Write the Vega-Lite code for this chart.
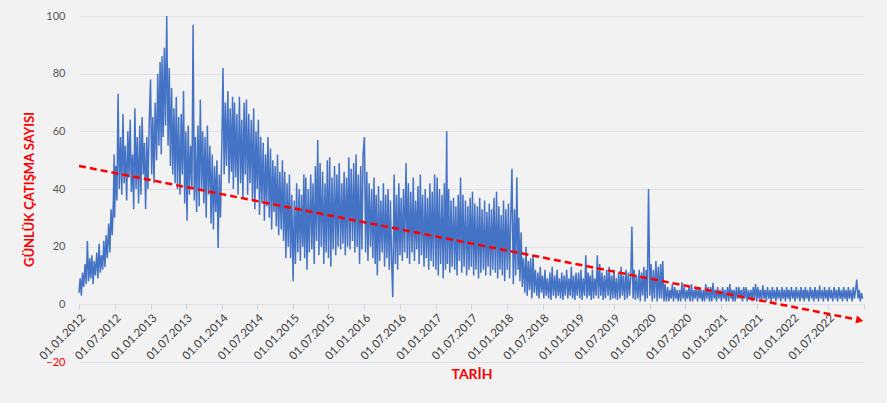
{
"$schema":"https://vega.github.io/schema/vega-lite/v6.json",
"width":785,"height":346,
"autosize":{"type":"none"},
"padding":{"left":79,"top":16,"right":23,"bottom":41},
"background":"#f2f2f2",
"config":{"view":{"stroke":null},"font":"Lato"},
"encoding":{
"x":{"field":"date","type":"temporal",
"scale":{"type":"utc","domain":[1325376000000,1672531200000]},
"axis":{"title":"TARİH","titleColor":"#ff0000","titleFontWeight":"bold","titleFontSize":14,"titlePadding":6,
"offset":-58,"domain":false,"grid":false,"tickColor":"#d0d3d8","tickSize":5,
"labelAngle":-45,"labelFontSize":11.5,"labelColor":"#404040","labelPadding":3,"labelOverlap":false,"labelBound":false,"labelFlush":false,"labelSeparation":0,
"values":[1325376000000,1341100800000,1356998400000,1372636800000,1388534400000,1404172800000,1420070400000,1435708800000,1451606400000,1467331200000,1483228800000,1498867200000,1514764800000,1530403200000,1546300800000,1561939200000,1577836800000,1593561600000,1609459200000,1625097600000,1640995200000,1656633600000,1672531200000],
"format":"%d.%m.%Y",
"labelExpr":"datum.value >= 1672531200000 ? '' : datum.label"}},
"y":{"field":"count","type":"quantitative",
"scale":{"domain":[-20,100],"nice":false,"zero":false},
"axis":{"title":"GÜNLÜK ÇATIŞMA SAYISI","titleColor":"#ff0000","titleFontWeight":"bold","titleFontSize":13,"titlePadding":9,
"values":[-20,0,20,40,60,80,100],"domain":false,"ticks":false,"labelPadding":14,"labelFontSize":11,
"labelColor":{"condition":{"test":"datum.value < 0","value":"#ff0000"},"value":"#595959"},
"gridColor":"#dde1e7","gridWidth":1.2}}
},
"layer":[
{"data":{"values":[
{"date":"2012-01-01","count":4},{"date":"2012-01-07","count":9},{"date":"2012-01-13","count":3},{"date":"2012-01-19","count":11},{"date":"2012-01-25","count":6},
{"date":"2012-02-01","count":14},{"date":"2012-02-07","count":7},{"date":"2012-02-13","count":22},{"date":"2012-02-19","count":8},{"date":"2012-02-25","count":16},
{"date":"2012-03-01","count":9},{"date":"2012-03-07","count":17},{"date":"2012-03-13","count":7},{"date":"2012-03-19","count":15},{"date":"2012-03-25","count":10},
{"date":"2012-04-01","count":18},{"date":"2012-04-07","count":9},{"date":"2012-04-13","count":21},{"date":"2012-04-19","count":11},{"date":"2012-04-25","count":17},
{"date":"2012-05-01","count":12},{"date":"2012-05-07","count":22},{"date":"2012-05-13","count":13},{"date":"2012-05-19","count":24},{"date":"2012-05-25","count":16},
{"date":"2012-06-01","count":28},{"date":"2012-06-07","count":18},{"date":"2012-06-13","count":33},{"date":"2012-06-19","count":24},{"date":"2012-06-25","count":36},{"date":"2012-06-29","count":52},
{"date":"2012-07-01","count":30},{"date":"2012-07-07","count":48},{"date":"2012-07-13","count":36},{"date":"2012-07-19","count":73},{"date":"2012-07-25","count":40},
{"date":"2012-08-01","count":58},{"date":"2012-08-07","count":38},{"date":"2012-08-13","count":66},{"date":"2012-08-19","count":42},{"date":"2012-08-25","count":55},
{"date":"2012-09-01","count":36},{"date":"2012-09-07","count":60},{"date":"2012-09-13","count":44},{"date":"2012-09-19","count":64},{"date":"2012-09-25","count":39},
{"date":"2012-10-01","count":52},{"date":"2012-10-07","count":33},{"date":"2012-10-13","count":68},{"date":"2012-10-19","count":40},{"date":"2012-10-25","count":58},
{"date":"2012-11-01","count":35},{"date":"2012-11-07","count":62},{"date":"2012-11-13","count":38},{"date":"2012-11-19","count":65},{"date":"2012-11-25","count":45},
{"date":"2012-12-01","count":56},{"date":"2012-12-07","count":33},{"date":"2012-12-13","count":58},{"date":"2012-12-19","count":40},{"date":"2012-12-25","count":62},
{"date":"2013-01-01","count":78},{"date":"2013-01-07","count":45},{"date":"2013-01-13","count":65},{"date":"2013-01-19","count":42},{"date":"2013-01-25","count":70},
{"date":"2013-02-01","count":50},{"date":"2013-02-07","count":80},{"date":"2013-02-13","count":55},{"date":"2013-02-19","count":84},{"date":"2013-02-25","count":52},
{"date":"2013-03-01","count":86},{"date":"2013-03-07","count":58},{"date":"2013-03-13","count":89},{"date":"2013-03-19","count":62},{"date":"2013-03-25","count":100},
{"date":"2013-04-01","count":55},{"date":"2013-04-07","count":82},{"date":"2013-04-13","count":48},{"date":"2013-04-19","count":75},{"date":"2013-04-25","count":45},
{"date":"2013-05-01","count":68},{"date":"2013-05-07","count":42},{"date":"2013-05-13","count":72},{"date":"2013-05-19","count":40},{"date":"2013-05-25","count":65},
{"date":"2013-06-01","count":38},{"date":"2013-06-07","count":66},{"date":"2013-06-13","count":45},{"date":"2013-06-19","count":74},{"date":"2013-06-25","count":35},
{"date":"2013-07-01","count":60},{"date":"2013-07-07","count":29},{"date":"2013-07-13","count":62},{"date":"2013-07-19","count":38},{"date":"2013-07-25","count":55},
{"date":"2013-08-01","count":40},{"date":"2013-08-07","count":97},{"date":"2013-08-13","count":36},{"date":"2013-08-19","count":58},{"date":"2013-08-25","count":32},
{"date":"2013-09-01","count":62},{"date":"2013-09-07","count":34},{"date":"2013-09-13","count":71},{"date":"2013-09-19","count":40},{"date":"2013-09-25","count":60},
{"date":"2013-10-01","count":35},{"date":"2013-10-07","count":58},{"date":"2013-10-13","count":30},{"date":"2013-10-19","count":62},{"date":"2013-10-25","count":38},
{"date":"2013-11-01","count":55},{"date":"2013-11-07","count":28},{"date":"2013-11-13","count":52},{"date":"2013-11-19","count":26},{"date":"2013-11-25","count":48},
{"date":"2013-12-01","count":32},{"date":"2013-12-07","count":50},{"date":"2013-12-13","count":19.5},{"date":"2013-12-19","count":45},{"date":"2013-12-25","count":30},
{"date":"2014-01-01","count":55},{"date":"2014-01-07","count":82},{"date":"2014-01-13","count":45},{"date":"2014-01-19","count":70},{"date":"2014-01-25","count":48},
{"date":"2014-02-01","count":74},{"date":"2014-02-07","count":42},{"date":"2014-02-13","count":68},{"date":"2014-02-19","count":46},{"date":"2014-02-25","count":72},
{"date":"2014-03-01","count":40},{"date":"2014-03-07","count":70},{"date":"2014-03-13","count":44},{"date":"2014-03-19","count":66},{"date":"2014-03-25","count":38},
{"date":"2014-04-01","count":72},{"date":"2014-04-07","count":42},{"date":"2014-04-13","count":64},{"date":"2014-04-19","count":37},{"date":"2014-04-25","count":70},
{"date":"2014-05-01","count":45},{"date":"2014-05-07","count":71},{"date":"2014-05-13","count":38},{"date":"2014-05-19","count":66},{"date":"2014-05-25","count":42},
{"date":"2014-06-01","count":64},{"date":"2014-06-07","count":36},{"date":"2014-06-13","count":68},{"date":"2014-06-19","count":33},{"date":"2014-06-25","count":60},
{"date":"2014-07-01","count":40},{"date":"2014-07-07","count":64},{"date":"2014-07-13","count":31},{"date":"2014-07-19","count":58},{"date":"2014-07-25","count":35},
{"date":"2014-08-01","count":56},{"date":"2014-08-07","count":29},{"date":"2014-08-13","count":52},{"date":"2014-08-19","count":34},{"date":"2014-08-25","count":58},
{"date":"2014-09-01","count":30},{"date":"2014-09-07","count":54},{"date":"2014-09-13","count":26},{"date":"2014-09-19","count":50},{"date":"2014-09-25","count":32},
{"date":"2014-10-01","count":48},{"date":"2014-10-07","count":27},{"date":"2014-10-13","count":52},{"date":"2014-10-19","count":24},{"date":"2014-10-25","count":46},
{"date":"2014-11-01","count":26},{"date":"2014-11-07","count":50},{"date":"2014-11-13","count":22},{"date":"2014-11-19","count":46},{"date":"2014-11-25","count":16},
{"date":"2014-12-01","count":42},{"date":"2014-12-07","count":20},{"date":"2014-12-13","count":45},{"date":"2014-12-19","count":16},{"date":"2014-12-25","count":38},
{"date":"2015-01-01","count":8},{"date":"2015-01-07","count":36},{"date":"2015-01-13","count":14},{"date":"2015-01-19","count":42},{"date":"2015-01-25","count":18},
{"date":"2015-02-01","count":40},{"date":"2015-02-07","count":15},{"date":"2015-02-13","count":38},{"date":"2015-02-19","count":20},{"date":"2015-02-25","count":45},
{"date":"2015-03-01","count":16},{"date":"2015-03-07","count":44},{"date":"2015-03-13","count":12},{"date":"2015-03-19","count":40},{"date":"2015-03-25","count":18},
{"date":"2015-04-01","count":45},{"date":"2015-04-07","count":19},{"date":"2015-04-13","count":42},{"date":"2015-04-19","count":14},{"date":"2015-04-25","count":48},
{"date":"2015-05-01","count":22},{"date":"2015-05-07","count":57},{"date":"2015-05-13","count":17},{"date":"2015-05-19","count":49},{"date":"2015-05-25","count":20},
{"date":"2015-06-01","count":46},{"date":"2015-06-07","count":14},{"date":"2015-06-13","count":42},{"date":"2015-06-19","count":18},{"date":"2015-06-25","count":50},
{"date":"2015-07-01","count":16},{"date":"2015-07-07","count":51},{"date":"2015-07-13","count":13},{"date":"2015-07-19","count":44},{"date":"2015-07-25","count":19},
{"date":"2015-08-01","count":48},{"date":"2015-08-07","count":17},{"date":"2015-08-13","count":45},{"date":"2015-08-19","count":20},{"date":"2015-08-25","count":49},
{"date":"2015-09-01","count":19},{"date":"2015-09-07","count":42},{"date":"2015-09-13","count":21},{"date":"2015-09-19","count":46},{"date":"2015-09-25","count":17},
{"date":"2015-10-01","count":44},{"date":"2015-10-07","count":20},{"date":"2015-10-13","count":51},{"date":"2015-10-19","count":19},{"date":"2015-10-25","count":47},
{"date":"2015-11-01","count":22},{"date":"2015-11-07","count":49},{"date":"2015-11-13","count":18},{"date":"2015-11-19","count":52},{"date":"2015-11-25","count":20},
{"date":"2015-12-01","count":45},{"date":"2015-12-07","count":14},{"date":"2015-12-13","count":48},{"date":"2015-12-19","count":19},{"date":"2015-12-25","count":52},
{"date":"2016-01-01","count":58},{"date":"2016-01-07","count":18},{"date":"2016-01-13","count":46},{"date":"2016-01-19","count":15},{"date":"2016-01-25","count":42},
{"date":"2016-02-01","count":20},{"date":"2016-02-07","count":40},{"date":"2016-02-13","count":16},{"date":"2016-02-19","count":44},{"date":"2016-02-25","count":14},
{"date":"2016-03-01","count":38},{"date":"2016-03-07","count":10},{"date":"2016-03-13","count":41},{"date":"2016-03-19","count":15},{"date":"2016-03-25","count":36},
{"date":"2016-04-01","count":18},{"date":"2016-04-07","count":42},{"date":"2016-04-13","count":13},{"date":"2016-04-19","count":38},{"date":"2016-04-25","count":16},
{"date":"2016-05-01","count":40},{"date":"2016-05-07","count":12},{"date":"2016-05-13","count":36},{"date":"2016-05-19","count":15},{"date":"2016-05-25","count":2.5},
{"date":"2016-06-01","count":45},{"date":"2016-06-07","count":14},{"date":"2016-06-13","count":38},{"date":"2016-06-19","count":12},{"date":"2016-06-25","count":42},
{"date":"2016-07-01","count":17},{"date":"2016-07-07","count":37},{"date":"2016-07-13","count":15},{"date":"2016-07-19","count":40},{"date":"2016-07-25","count":18},
{"date":"2016-08-01","count":49},{"date":"2016-08-07","count":16},{"date":"2016-08-13","count":42},{"date":"2016-08-19","count":14},{"date":"2016-08-25","count":39},
{"date":"2016-09-01","count":18},{"date":"2016-09-07","count":44},{"date":"2016-09-13","count":15},{"date":"2016-09-19","count":36},{"date":"2016-09-25","count":19},
{"date":"2016-10-01","count":41},{"date":"2016-10-07","count":14},{"date":"2016-10-13","count":45},{"date":"2016-10-19","count":17},{"date":"2016-10-25","count":38},
{"date":"2016-11-01","count":13},{"date":"2016-11-07","count":40},{"date":"2016-11-13","count":16},{"date":"2016-11-19","count":37},{"date":"2016-11-25","count":12},
{"date":"2016-12-01","count":42},{"date":"2016-12-07","count":15},{"date":"2016-12-13","count":39},{"date":"2016-12-19","count":13},{"date":"2016-12-25","count":45},
{"date":"2017-01-01","count":12},{"date":"2017-01-07","count":44},{"date":"2017-01-13","count":10},{"date":"2017-01-19","count":40},{"date":"2017-01-25","count":14},
{"date":"2017-02-01","count":38},{"date":"2017-02-07","count":9},{"date":"2017-02-13","count":42},{"date":"2017-02-19","count":12},{"date":"2017-02-25","count":60},
{"date":"2017-03-01","count":14},{"date":"2017-03-07","count":40},{"date":"2017-03-13","count":11},{"date":"2017-03-19","count":36},{"date":"2017-03-25","count":13},
{"date":"2017-04-01","count":37},{"date":"2017-04-07","count":12},{"date":"2017-04-13","count":34},{"date":"2017-04-19","count":10},{"date":"2017-04-25","count":38},
{"date":"2017-05-01","count":15},{"date":"2017-05-07","count":44},{"date":"2017-05-13","count":11},{"date":"2017-05-19","count":38},{"date":"2017-05-25","count":13},
{"date":"2017-06-01","count":36},{"date":"2017-06-07","count":10},{"date":"2017-06-13","count":34},{"date":"2017-06-19","count":12},{"date":"2017-06-25","count":37},
{"date":"2017-07-01","count":13},{"date":"2017-07-07","count":39},{"date":"2017-07-13","count":10},{"date":"2017-07-19","count":35},{"date":"2017-07-25","count":12},
{"date":"2017-08-01","count":34},{"date":"2017-08-07","count":9},{"date":"2017-08-13","count":37},{"date":"2017-08-19","count":11},{"date":"2017-08-25","count":33},
{"date":"2017-09-01","count":12},{"date":"2017-09-07","count":36},{"date":"2017-09-13","count":10},{"date":"2017-09-19","count":32},{"date":"2017-09-25","count":13},
{"date":"2017-10-01","count":35},{"date":"2017-10-07","count":10},{"date":"2017-10-13","count":33},{"date":"2017-10-19","count":12},{"date":"2017-10-25","count":37},
{"date":"2017-11-01","count":11},{"date":"2017-11-07","count":39},{"date":"2017-11-13","count":9},{"date":"2017-11-19","count":34},{"date":"2017-11-25","count":12},
{"date":"2017-12-01","count":31},{"date":"2017-12-07","count":10},{"date":"2017-12-13","count":36},{"date":"2017-12-19","count":8},{"date":"2017-12-25","count":33},
{"date":"2018-01-01","count":12},{"date":"2018-01-07","count":35},{"date":"2018-01-13","count":9},{"date":"2018-01-19","count":30},{"date":"2018-01-25","count":47},
{"date":"2018-02-01","count":7},{"date":"2018-02-07","count":33},{"date":"2018-02-13","count":10},{"date":"2018-02-19","count":44},{"date":"2018-02-25","count":12},
{"date":"2018-03-01","count":30},{"date":"2018-03-07","count":8},{"date":"2018-03-13","count":25},{"date":"2018-03-19","count":6},{"date":"2018-03-25","count":16},
{"date":"2018-04-01","count":4},{"date":"2018-04-07","count":20},{"date":"2018-04-13","count":3},{"date":"2018-04-19","count":15},{"date":"2018-04-25","count":5},
{"date":"2018-05-01","count":16},{"date":"2018-05-07","count":2},{"date":"2018-05-13","count":17},{"date":"2018-05-19","count":4},{"date":"2018-05-25","count":12},
{"date":"2018-06-01","count":3},{"date":"2018-06-07","count":11},{"date":"2018-06-13","count":2},{"date":"2018-06-19","count":13},{"date":"2018-06-25","count":4},
{"date":"2018-07-01","count":10},{"date":"2018-07-07","count":2},{"date":"2018-07-13","count":12},{"date":"2018-07-19","count":3},{"date":"2018-07-25","count":9},
{"date":"2018-08-01","count":2},{"date":"2018-08-07","count":11},{"date":"2018-08-13","count":1.5},{"date":"2018-08-19","count":13},{"date":"2018-08-25","count":3},
{"date":"2018-09-01","count":10},{"date":"2018-09-07","count":2},{"date":"2018-09-13","count":12},{"date":"2018-09-19","count":3},{"date":"2018-09-25","count":9},
{"date":"2018-10-01","count":2},{"date":"2018-10-07","count":11},{"date":"2018-10-13","count":1.5},{"date":"2018-10-19","count":10},{"date":"2018-10-25","count":3},
{"date":"2018-11-01","count":12},{"date":"2018-11-07","count":2},{"date":"2018-11-13","count":9},{"date":"2018-11-19","count":3},{"date":"2018-11-25","count":13},
{"date":"2018-12-01","count":2},{"date":"2018-12-07","count":10},{"date":"2018-12-13","count":1.5},{"date":"2018-12-19","count":11},{"date":"2018-12-25","count":3},
{"date":"2019-01-01","count":11},{"date":"2019-01-07","count":2},{"date":"2019-01-13","count":12},{"date":"2019-01-19","count":1.5},{"date":"2019-01-25","count":9},
{"date":"2019-02-01","count":3},{"date":"2019-02-07","count":17},{"date":"2019-02-13","count":2},{"date":"2019-02-19","count":11},{"date":"2019-02-25","count":3},
{"date":"2019-03-01","count":10},{"date":"2019-03-07","count":1.5},{"date":"2019-03-13","count":12},{"date":"2019-03-19","count":2},{"date":"2019-03-25","count":9},
{"date":"2019-04-01","count":3},{"date":"2019-04-07","count":17},{"date":"2019-04-13","count":2},{"date":"2019-04-19","count":14},{"date":"2019-04-25","count":3},
{"date":"2019-05-01","count":11},{"date":"2019-05-07","count":1.5},{"date":"2019-05-13","count":10},{"date":"2019-05-19","count":2},{"date":"2019-05-25","count":12},
{"date":"2019-06-01","count":3},{"date":"2019-06-07","count":13},{"date":"2019-06-13","count":1.5},{"date":"2019-06-19","count":10},{"date":"2019-06-25","count":2},
{"date":"2019-07-01","count":12},{"date":"2019-07-07","count":2},{"date":"2019-07-13","count":9},{"date":"2019-07-19","count":1.5},{"date":"2019-07-25","count":11},
{"date":"2019-08-01","count":2},{"date":"2019-08-07","count":13},{"date":"2019-08-13","count":3},{"date":"2019-08-19","count":10},{"date":"2019-08-25","count":1.5},
{"date":"2019-09-01","count":12},{"date":"2019-09-07","count":2},{"date":"2019-09-13","count":11},{"date":"2019-09-19","count":3},{"date":"2019-09-25","count":9},
{"date":"2019-10-01","count":27},{"date":"2019-10-07","count":2},{"date":"2019-10-13","count":12},{"date":"2019-10-19","count":1.5},{"date":"2019-10-25","count":10},
{"date":"2019-11-01","count":2},{"date":"2019-11-07","count":12},{"date":"2019-11-13","count":1},{"date":"2019-11-19","count":11},{"date":"2019-11-25","count":3},
{"date":"2019-12-01","count":13},{"date":"2019-12-07","count":1},{"date":"2019-12-13","count":12},{"date":"2019-12-19","count":2},{"date":"2019-12-25","count":40},
{"date":"2020-01-01","count":3},{"date":"2020-01-07","count":14},{"date":"2020-01-13","count":1},{"date":"2020-01-19","count":12},{"date":"2020-01-25","count":2},
{"date":"2020-02-01","count":15},{"date":"2020-02-07","count":1},{"date":"2020-02-13","count":13},{"date":"2020-02-19","count":2},{"date":"2020-02-25","count":14},
{"date":"2020-03-01","count":2},{"date":"2020-03-07","count":15},{"date":"2020-03-13","count":1},{"date":"2020-03-19","count":7},{"date":"2020-03-25","count":1},
{"date":"2020-04-01","count":6},{"date":"2020-04-07","count":1},{"date":"2020-04-13","count":5},{"date":"2020-04-19","count":2},{"date":"2020-04-25","count":7},
{"date":"2020-05-01","count":1},{"date":"2020-05-07","count":6},{"date":"2020-05-13","count":2},{"date":"2020-05-19","count":5},{"date":"2020-05-25","count":1},
{"date":"2020-06-01","count":5},{"date":"2020-06-07","count":1},{"date":"2020-06-13","count":7.6},{"date":"2020-06-19","count":2},{"date":"2020-06-25","count":6},
{"date":"2020-07-01","count":1},{"date":"2020-07-07","count":5},{"date":"2020-07-13","count":2},{"date":"2020-07-19","count":6},{"date":"2020-07-25","count":1},
{"date":"2020-08-01","count":7},{"date":"2020-08-07","count":1},{"date":"2020-08-13","count":5},{"date":"2020-08-19","count":2},{"date":"2020-08-25","count":6},
{"date":"2020-09-01","count":1},{"date":"2020-09-07","count":6},{"date":"2020-09-13","count":2},{"date":"2020-09-19","count":5},{"date":"2020-09-25","count":1},
{"date":"2020-10-01","count":5},{"date":"2020-10-07","count":1},{"date":"2020-10-13","count":7},{"date":"2020-10-19","count":2},{"date":"2020-10-25","count":6},
{"date":"2020-11-01","count":1},{"date":"2020-11-07","count":6},{"date":"2020-11-13","count":1},{"date":"2020-11-19","count":7.5},{"date":"2020-11-25","count":2},
{"date":"2020-12-01","count":5},{"date":"2020-12-07","count":1},{"date":"2020-12-13","count":6},{"date":"2020-12-19","count":2},{"date":"2020-12-25","count":5},
{"date":"2021-01-01","count":1},{"date":"2021-01-07","count":6},{"date":"2021-01-13","count":2},{"date":"2021-01-19","count":5},{"date":"2021-01-25","count":1},
{"date":"2021-02-01","count":6},{"date":"2021-02-07","count":1},{"date":"2021-02-13","count":7},{"date":"2021-02-19","count":2},{"date":"2021-02-25","count":5},
{"date":"2021-03-01","count":1},{"date":"2021-03-07","count":5},{"date":"2021-03-13","count":1},{"date":"2021-03-19","count":6},{"date":"2021-03-25","count":2},
{"date":"2021-04-01","count":6},{"date":"2021-04-07","count":2},{"date":"2021-04-13","count":5},{"date":"2021-04-19","count":1},{"date":"2021-04-25","count":6},
{"date":"2021-05-01","count":2},{"date":"2021-05-07","count":6},{"date":"2021-05-13","count":1},{"date":"2021-05-19","count":5},{"date":"2021-05-25","count":2},
{"date":"2021-06-01","count":5},{"date":"2021-06-07","count":1},{"date":"2021-06-13","count":6},{"date":"2021-06-19","count":2},{"date":"2021-06-25","count":7},
{"date":"2021-07-01","count":1},{"date":"2021-07-07","count":6},{"date":"2021-07-13","count":2},{"date":"2021-07-19","count":5},{"date":"2021-07-25","count":1},
{"date":"2021-08-01","count":6.6},{"date":"2021-08-07","count":2},{"date":"2021-08-13","count":5},{"date":"2021-08-19","count":1},{"date":"2021-08-25","count":6},
{"date":"2021-09-01","count":2},{"date":"2021-09-07","count":5},{"date":"2021-09-13","count":1},{"date":"2021-09-19","count":6},{"date":"2021-09-25","count":2},
{"date":"2021-10-01","count":5},{"date":"2021-10-07","count":1},{"date":"2021-10-13","count":6},{"date":"2021-10-19","count":2},{"date":"2021-10-25","count":5},
{"date":"2021-11-01","count":1},{"date":"2021-11-07","count":6},{"date":"2021-11-13","count":2},{"date":"2021-11-19","count":5},{"date":"2021-11-25","count":1},
{"date":"2021-12-01","count":6},{"date":"2021-12-07","count":2},{"date":"2021-12-13","count":5},{"date":"2021-12-19","count":1},{"date":"2021-12-25","count":6},
{"date":"2022-01-01","count":2},{"date":"2022-01-07","count":5},{"date":"2022-01-13","count":1},{"date":"2022-01-19","count":6},{"date":"2022-01-25","count":2},
{"date":"2022-02-01","count":5},{"date":"2022-02-07","count":1},{"date":"2022-02-13","count":6},{"date":"2022-02-19","count":2},{"date":"2022-02-25","count":5},
{"date":"2022-03-01","count":1},{"date":"2022-03-07","count":6},{"date":"2022-03-13","count":2},{"date":"2022-03-19","count":5},{"date":"2022-03-25","count":1},
{"date":"2022-04-01","count":6},{"date":"2022-04-07","count":2},{"date":"2022-04-13","count":5},{"date":"2022-04-19","count":1},{"date":"2022-04-25","count":6},
{"date":"2022-05-01","count":2},{"date":"2022-05-07","count":5},{"date":"2022-05-13","count":1},{"date":"2022-05-19","count":6.5},{"date":"2022-05-25","count":2},
{"date":"2022-06-01","count":5},{"date":"2022-06-07","count":1},{"date":"2022-06-13","count":6},{"date":"2022-06-19","count":2},{"date":"2022-06-25","count":5},
{"date":"2022-07-01","count":1},{"date":"2022-07-07","count":6},{"date":"2022-07-13","count":2},{"date":"2022-07-19","count":5},{"date":"2022-07-25","count":1},
{"date":"2022-08-01","count":6},{"date":"2022-08-07","count":2},{"date":"2022-08-13","count":5},{"date":"2022-08-19","count":1},{"date":"2022-08-25","count":6},
{"date":"2022-09-01","count":2},{"date":"2022-09-07","count":5},{"date":"2022-09-13","count":1},{"date":"2022-09-19","count":6},{"date":"2022-09-25","count":2},
{"date":"2022-10-01","count":5},{"date":"2022-10-07","count":1},{"date":"2022-10-13","count":6},{"date":"2022-10-19","count":2},{"date":"2022-10-25","count":5},
{"date":"2022-11-01","count":1},{"date":"2022-11-07","count":6},{"date":"2022-11-13","count":2},{"date":"2022-11-19","count":5},{"date":"2022-11-25","count":8.6},
{"date":"2022-12-01","count":2},{"date":"2022-12-07","count":5},{"date":"2022-12-13","count":1},{"date":"2022-12-19","count":4},{"date":"2022-12-25","count":2}
]},
"mark":{"type":"line","color":"#4472C4","strokeWidth":1.5}},
{"data":{"values":[{"date":"2012-01-01","count":48},{"date":"2022-11-20","count":-5.2}]},
"mark":{"type":"line","color":"#ff0000","strokeWidth":2.5,"strokeDash":[7,4]}},
{"data":{"values":[{"date":"2022-12-10","count":-5.5}]},
"mark":{"type":"point","shape":"triangle-right","filled":true,"color":"#ff0000","size":70,"angle":11,"opacity":1}}
]
}
